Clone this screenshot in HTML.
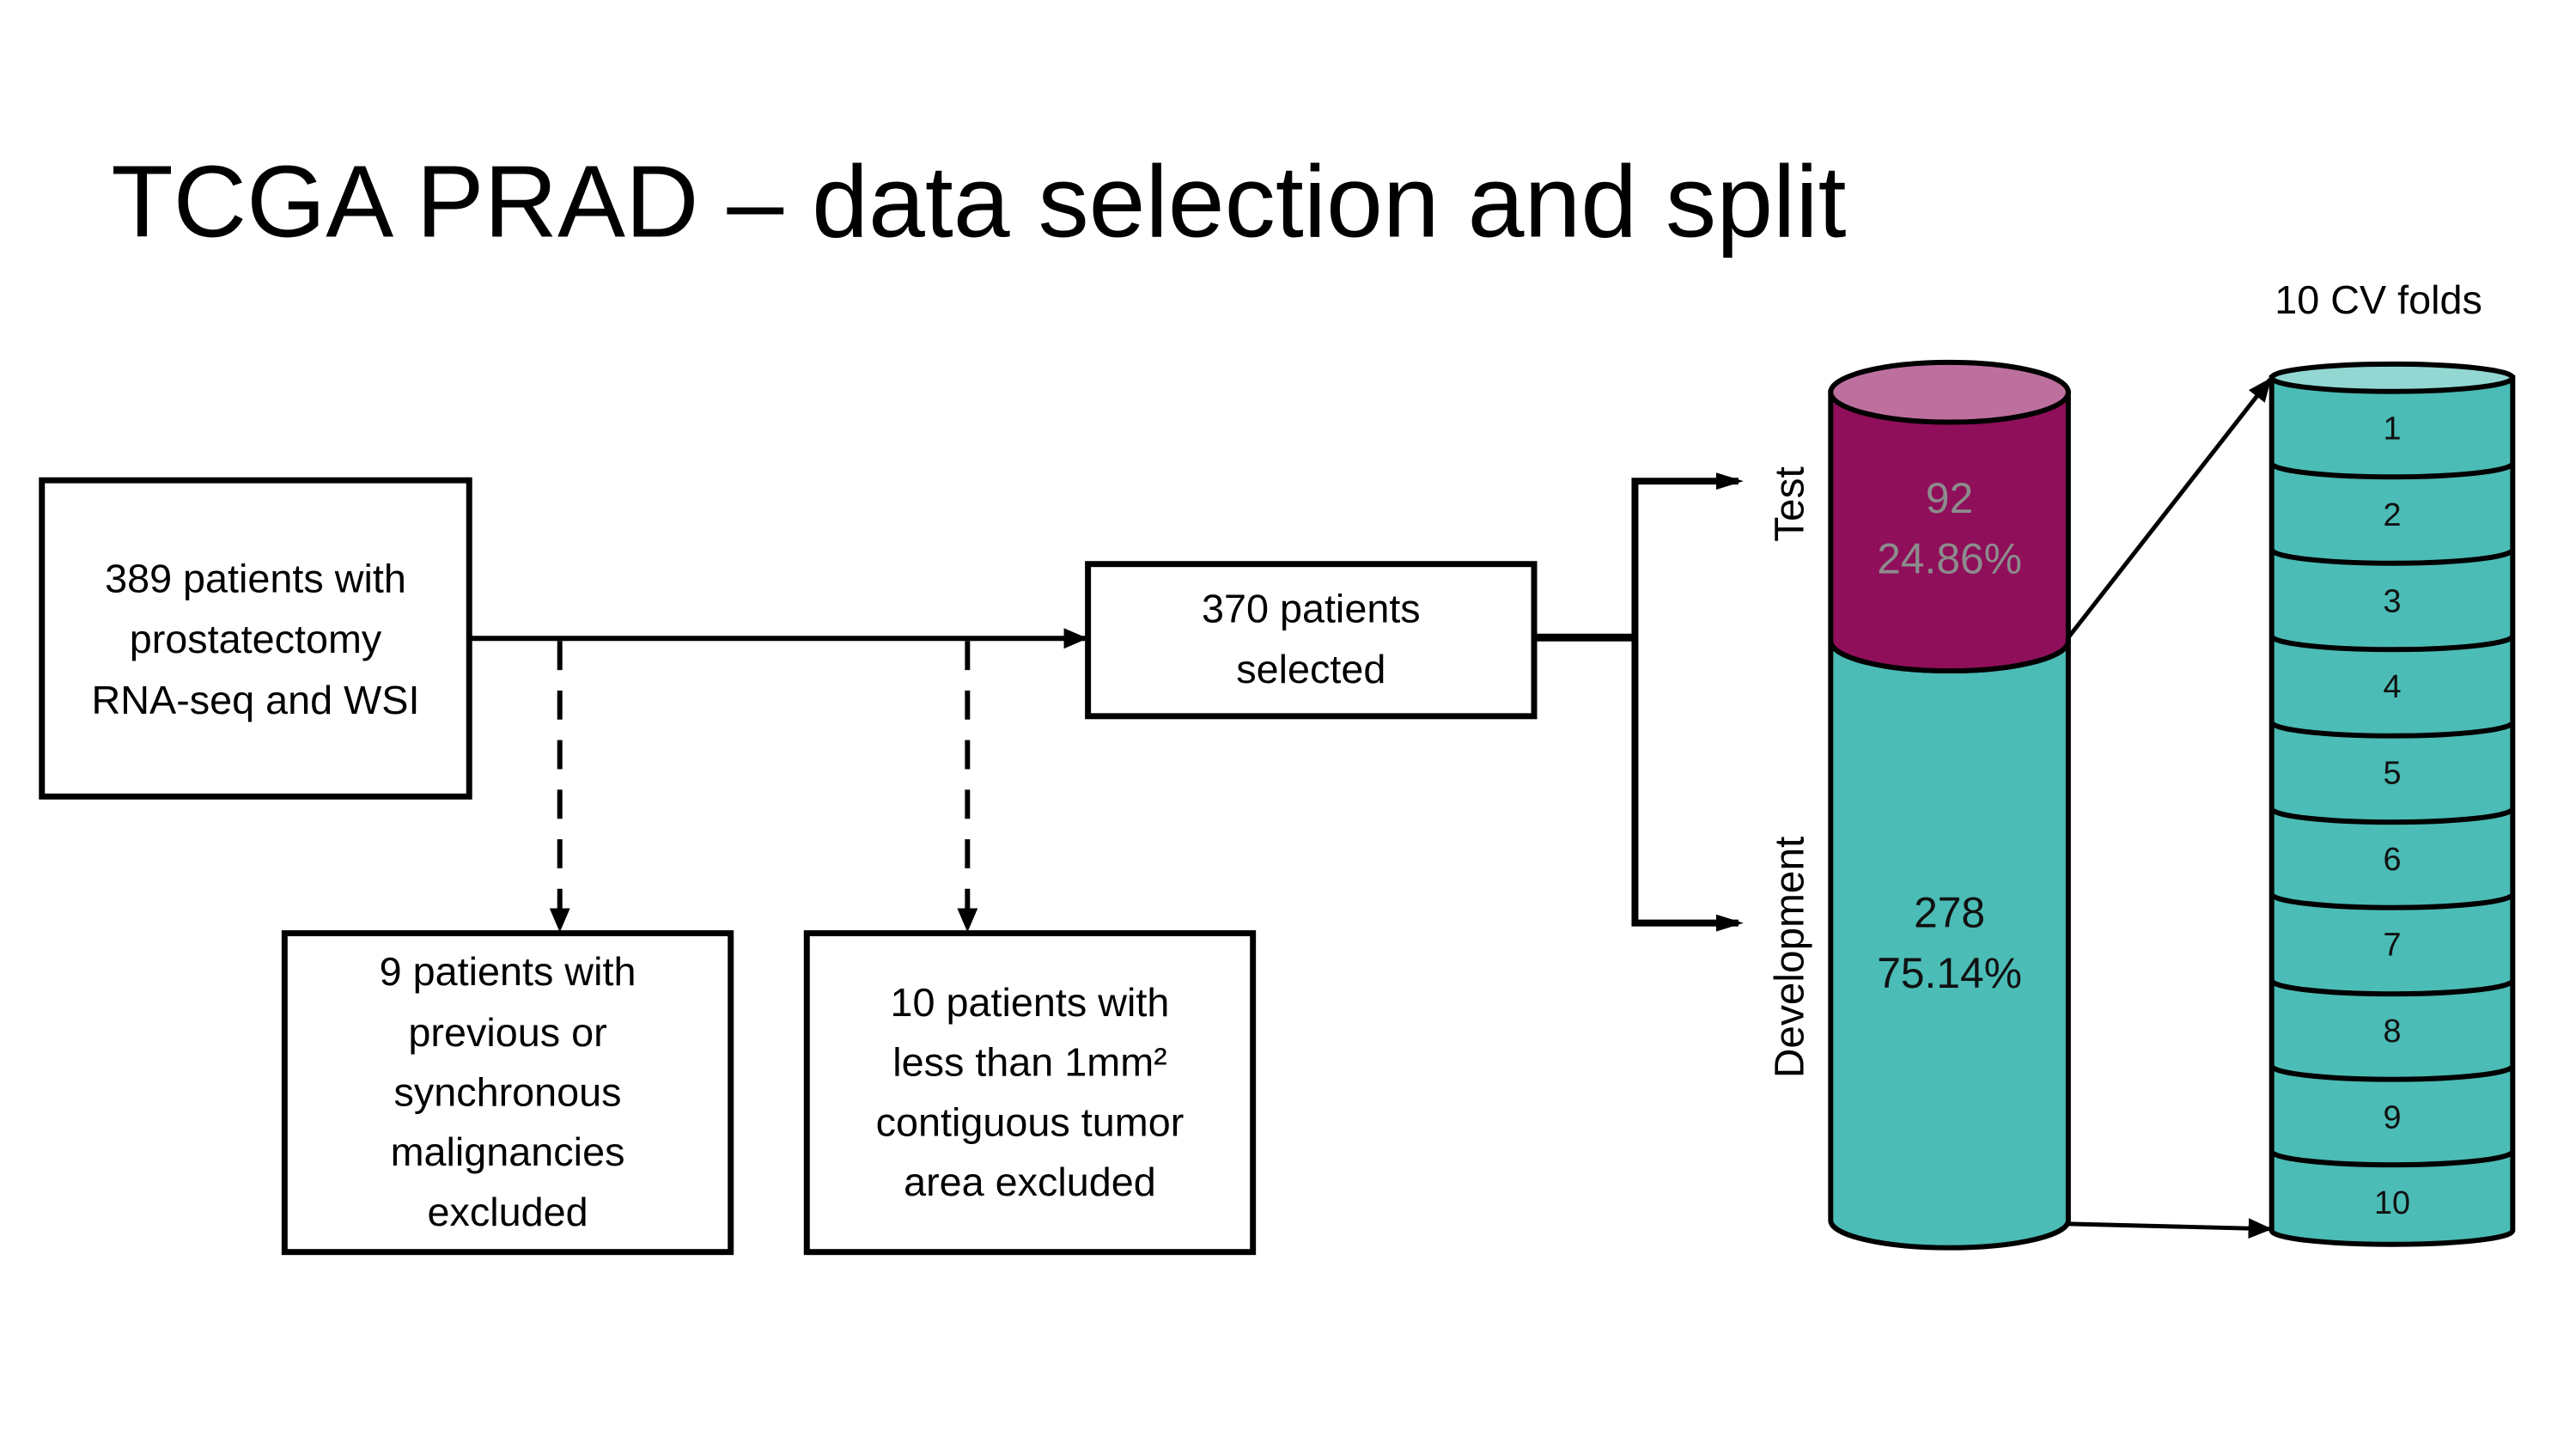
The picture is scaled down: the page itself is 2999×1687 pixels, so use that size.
<!DOCTYPE html>
<html><head><meta charset="utf-8"><style>
html,body{margin:0;padding:0;background:#fff;}
svg{display:block;}
text{font-family:"Liberation Sans",sans-serif;}
</style></head><body>
<svg width="2999" height="1687" viewBox="0 0 2999 1687" xmlns="http://www.w3.org/2000/svg">
<defs>
<marker id="ahb" viewBox="0 0 10 10" refX="9" refY="5" markerWidth="28" markerHeight="24" orient="auto" markerUnits="userSpaceOnUse" preserveAspectRatio="none"><path d="M0,0 L10,5 L0,10 z" fill="#000"/></marker>
</defs>
<g transform="scale(0.995)">
<text x="130" y="277" font-size="119" fill="#000">TCGA PRAD – data selection and split</text>

<rect x="49" y="562" width="500" height="370" fill="#fff" stroke="#000" stroke-width="7"/>
<g font-size="47" text-anchor="middle" fill="#000">
<text x="299" y="693">389 patients with</text>
<text x="299" y="764">prostatectomy</text>
<text x="299" y="835">RNA-seq and WSI</text>
</g>
<rect x="1273" y="660" width="522" height="178" fill="#fff" stroke="#000" stroke-width="7"/>
<g font-size="47" text-anchor="middle">
<text x="1534" y="728">370 patients</text>
<text x="1534" y="799">selected</text>
</g>
<rect x="333" y="1092" width="522" height="373" fill="#fff" stroke="#000" stroke-width="7"/>
<g font-size="47" text-anchor="middle">
<text x="594" y="1153">9 patients with</text>
<text x="594" y="1224">previous or</text>
<text x="594" y="1294">synchronous</text>
<text x="594" y="1364">malignancies</text>
<text x="594" y="1434">excluded</text>
</g>
<rect x="944" y="1092" width="522" height="373" fill="#fff" stroke="#000" stroke-width="7"/>
<g font-size="47" text-anchor="middle">
<text x="1205" y="1189">10 patients with</text>
<text x="1205" y="1259">less than 1mm²</text>
<text x="1205" y="1329">contiguous tumor</text>
<text x="1205" y="1399">area excluded</text>
</g>

<line x1="552" y1="747" x2="1270" y2="747" stroke="#000" stroke-width="6" marker-end="url(#ahb)"/>
<line x1="655" y1="750" x2="655" y2="1088" stroke="#000" stroke-width="6" stroke-dasharray="34,24" marker-end="url(#ahb)"/>
<line x1="1132" y1="750" x2="1132" y2="1088" stroke="#000" stroke-width="6" stroke-dasharray="34,24" marker-end="url(#ahb)"/>
<line x1="1795" y1="746" x2="1914" y2="746" stroke="#000" stroke-width="9"/>
<polyline points="2034,563 1913,563 1913,1080 2034,1080" fill="none" stroke="#000" stroke-width="8"/>
<path d="M2008,553 L2040,563 L2008,573 z" fill="#000"/>
<path d="M2008,1070 L2040,1080 L2008,1090 z" fill="#000"/>
<text transform="translate(2110,590) rotate(-90)" font-size="48" text-anchor="middle">Test</text>
<text transform="translate(2110,1120) rotate(-90)" font-size="48" text-anchor="middle">Development</text>

<path d="M2142,1428 L2142,750 A139,35 0 0 0 2420,750 L2420,1428 A139,32 0 0 1 2142,1428 z" fill="#4bbcb6" stroke="#000" stroke-width="6"/>
<path d="M2142,459 L2142,750 A139,35 0 0 0 2420,750 L2420,459 z" fill="#8f0f5a" stroke="#000" stroke-width="6"/>
<ellipse cx="2281" cy="459" rx="139" ry="35" fill="#bd6f9e" stroke="#000" stroke-width="6"/>
<g font-size="50" text-anchor="middle">
<text x="2281" y="600" fill="#8c8c8c">92</text>
<text x="2281" y="671" fill="#8c8c8c">24.86%</text>
<text x="2281" y="1085" fill="#111">278</text>
<text x="2281" y="1156" fill="#111">75.14%</text>
</g>

<path d="M2658,442 L2658,1440 A141,16 0 0 0 2940,1440 L2940,442 z" fill="#4bbcb6" stroke="#000" stroke-width="6"/>
<g fill="none" stroke="#000" stroke-width="6">
<path d="M2658,542 A141,16 0 0 0 2940,542"/>
<path d="M2658,643 A141,16 0 0 0 2940,643"/>
<path d="M2658,744 A141,16 0 0 0 2940,744"/>
<path d="M2658,845 A141,16 0 0 0 2940,845"/>
<path d="M2658,946 A141,16 0 0 0 2940,946"/>
<path d="M2658,1046 A141,16 0 0 0 2940,1046"/>
<path d="M2658,1147 A141,16 0 0 0 2940,1147"/>
<path d="M2658,1247 A141,16 0 0 0 2940,1247"/>
<path d="M2658,1347 A141,16 0 0 0 2940,1347"/>
</g>
<ellipse cx="2799" cy="442" rx="141" ry="16" fill="#93d7d3" stroke="#000" stroke-width="6"/>
<g font-size="38" text-anchor="middle" fill="#111">
<text x="2799" y="514">1</text>
<text x="2799" y="615">2</text>
<text x="2799" y="716">3</text>
<text x="2799" y="816">4</text>
<text x="2799" y="917">5</text>
<text x="2799" y="1018">6</text>
<text x="2799" y="1118">7</text>
<text x="2799" y="1219">8</text>
<text x="2799" y="1320">9</text>
<text x="2799" y="1420">10</text>
</g>
<text x="2783" y="367" font-size="47" text-anchor="middle">10 CV folds</text>

<line x1="2420" y1="746" x2="2656" y2="444" stroke="#000" stroke-width="5" marker-end="url(#ahb)"/>
<line x1="2420" y1="1432" x2="2656" y2="1438" stroke="#000" stroke-width="5" marker-end="url(#ahb)"/>
</g>
</svg>
</body></html>
